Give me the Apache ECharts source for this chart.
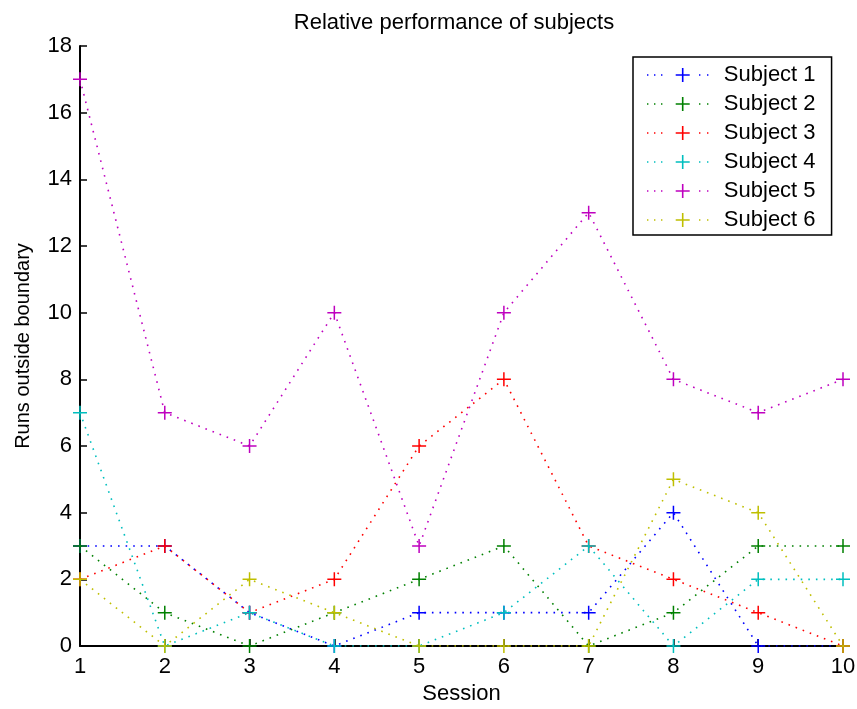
<!DOCTYPE html>
<html><head><meta charset="utf-8">
<script src="https://cdn.jsdelivr.net/npm/echarts@6/dist/echarts.min.js"></script>
<style>html,body{margin:0;padding:0;background:#fff}#c{width:857px;height:709px}</style>
</head><body><div id="c"></div>
<script>
const sessions = [1,2,3,4,5,6,7,8,9,10];
const seriesNames = ['Subject 1','Subject 2','Subject 3','Subject 4','Subject 5','Subject 6'];
const subject1 = [3,3,1,0,1,1,1,4,0,0];
const subject2 = [3,1,0,1,2,3,0,1,3,3];
const subject3 = [2,3,1,2,6,8,3,2,1,0];
const subject4 = [7,0,1,0,0,1,3,0,2,2];
const subject5 = [17,7,6,10,3,10,13,8,7,8];
const subject6 = [2,0,2,1,0,0,0,5,4,0];
const yTicks = [0,2,4,6,8,10,12,14,16,18];
const colors = ['#0000ff','#008000','#ff0000','#00bfbf','#bf00bf','#bfbf00'];

const allData = [subject1,subject2,subject3,subject4,subject5,subject6];
const font = 'Liberation Sans, Arial, Helvetica, sans-serif';
const plus = 'path://M0,6.25H14V7.75H0Z M6.25,0H7.75V14H6.25Z';
const legendIcon = 'path://M0.3,6.3h1.4v1.4h-1.4Z M7.3,6.3h1.4v1.4h-1.4Z M14.3,6.3h1.4v1.4h-1.4Z M29,6.2H43V7.8H29Z M35.2,0H36.8V14H35.2Z M52.3,6.3h1.4v1.4h-1.4Z M60.3,6.3h1.4v1.4h-1.4Z M62.9,6.9h0.1v0.1h-0.1Z';

const chart = echarts.init(document.getElementById('c'));
chart.setOption({
  animation: false,
  backgroundColor: '#fff',
  title: {
    text: 'Relative performance of subjects',
    left: 449, top: 7, textAlign: 'center',
    textStyle: {fontFamily: font, fontSize: 22, fontWeight: 'normal', color: '#000'}
  },
  grid: {left: 80, right: 14, top: 46, bottom: 63, containLabel: false, outerBoundsMode: 'none'},
  legend: {
    orient: 'vertical', left: 633, top: 57,
    padding: [7, 16, 4, 14], itemGap: 7,
    itemWidth: 63, itemHeight: 14,
    backgroundColor: '#fff', borderColor: '#000', borderWidth: 1.5,
    textStyle: {fontFamily: font, fontSize: 22, color: '#000', padding: [0, 0, 0, 9]},
    data: seriesNames.map(n => ({name: n, icon: legendIcon}))
  },
  xAxis: {
    type: 'value', min: 1, max: 10, interval: 1,
    name: 'Session', nameLocation: 'middle', nameGap: 33,
    nameTextStyle: {fontFamily: font, fontSize: 22, color: '#000'},
    axisLine: {onZero: false, lineStyle: {color: '#000', width: 2}},
    axisTick: {inside: true, length: 7, lineStyle: {color: '#000', width: 1.5}},
    axisLabel: {fontFamily: font, fontSize: 22, color: '#000', margin: 10},
    splitLine: {show: false}
  },
  yAxis: {
    type: 'value', min: 0, max: 18, interval: 2,
    name: 'Runs outside boundary', nameLocation: 'middle', nameGap: 47, nameMoveOverlap: false,
    nameTextStyle: {fontFamily: font, fontSize: 20, color: '#000'},
    axisLine: {show: true, lineStyle: {color: '#000', width: 2}},
    axisTick: {show: true, inside: true, length: 7, lineStyle: {color: '#000', width: 1.5}},
    axisLabel: {fontFamily: font, fontSize: 22, color: '#000', margin: 8,
      formatter: v => yTicks.includes(v) ? String(v) : ''},
    splitLine: {show: false}
  },
  series: allData.map((d, i) => ({
    name: seriesNames[i], type: 'line',
    data: sessions.map((s, j) => [s, d[j]]),
    symbol: plus, symbolSize: 14,
    itemStyle: {color: colors[i]},
    lineStyle: {color: colors[i], width: 1.6, type: [1.6, 6]},
    z: 2 + i
  }))
});
</script></body></html>
